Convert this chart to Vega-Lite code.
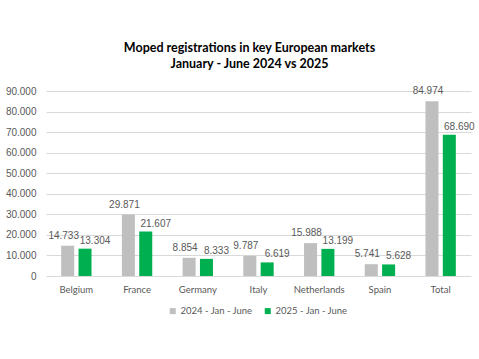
{
  "$schema": "https://vega.github.io/schema/vega-lite/v6.json",
  "width": 425,
  "height": 185,
  "padding": {"left": 5, "top": 41, "right": 9, "bottom": 10},
  "background": "white",
  "title": {
    "text": ["Moped registrations in key European markets", "January - June 2024 vs 2025"],
    "font": "Lato",
    "fontSize": 12.5,
    "fontWeight": "bold",
    "color": "#000000",
    "anchor": "middle",
    "lineHeight": 16,
    "offset": 16,
    "dx": -9
  },
  "data": {
    "values": [
      {"country": "Belgium", "series": "2024 - Jan - June", "value": 14733},
      {"country": "Belgium", "series": "2025 - Jan - June", "value": 13304},
      {"country": "France", "series": "2024 - Jan - June", "value": 29871},
      {"country": "France", "series": "2025 - Jan - June", "value": 21607},
      {"country": "Germany", "series": "2024 - Jan - June", "value": 8854},
      {"country": "Germany", "series": "2025 - Jan - June", "value": 8333},
      {"country": "Italy", "series": "2024 - Jan - June", "value": 9787},
      {"country": "Italy", "series": "2025 - Jan - June", "value": 6619},
      {"country": "Netherlands", "series": "2024 - Jan - June", "value": 15988},
      {"country": "Netherlands", "series": "2025 - Jan - June", "value": 13199},
      {"country": "Spain", "series": "2024 - Jan - June", "value": 5741},
      {"country": "Spain", "series": "2025 - Jan - June", "value": 5628},
      {"country": "Total", "series": "2024 - Jan - June", "value": 84974},
      {"country": "Total", "series": "2025 - Jan - June", "value": 68690}
    ]
  },
  "encoding": {
    "x": {
      "field": "country",
      "type": "nominal",
      "sort": null,
      "scale": {"paddingInner": 0.5, "paddingOuter": 0.25},
      "axis": {
        "title": null,
        "labelAngle": 0,
        "domain": false,
        "ticks": false,
        "labelPadding": 8,
        "labelFont": "Lato",
        "labelFontSize": 9.5,
        "labelColor": "#595959"
      }
    },
    "xOffset": {
      "field": "series",
      "type": "nominal",
      "scale": {"paddingInner": 0.25}
    },
    "y": {
      "field": "value",
      "type": "quantitative",
      "scale": {"domain": [0, 90000], "nice": false},
      "axis": {
        "title": null,
        "values": [0, 10000, 20000, 30000, 40000, 50000, 60000, 70000, 80000, 90000],
        "format": ",.0f",
        "domain": false,
        "ticks": false,
        "labelPadding": 10,
        "labelFont": "Liberation Sans",
        "labelFontSize": 10,
        "labelColor": "#595959",
        "gridColor": "#D9D9D9",
        "gridWidth": 1
      }
    }
  },
  "layer": [
    {
      "mark": {"type": "bar"},
      "encoding": {
        "color": {
          "field": "series",
          "type": "nominal",
          "scale": {"range": ["#BFBFBF", "#00B050"]},
          "legend": {
            "title": null,
            "orient": "none",
            "legendX": 122,
            "legendY": 215,
            "direction": "horizontal",
            "symbolType": "square",
            "symbolSize": 36,
            "symbolStrokeWidth": 0,
            "labelFont": "Lato",
            "labelFontSize": 9.5,
            "labelColor": "#595959",
            "labelOffset": 3,
            "columnPadding": 10
          }
        }
      }
    },
    {
      "transform": [{"filter": "datum.series === '2024 - Jan - June'"}],
      "mark": {"type": "text", "baseline": "bottom", "dy": -5, "dx": -4, "font": "Liberation Sans", "fontSize": 10, "color": "#595959"},
      "encoding": {
        "text": {"field": "value", "type": "quantitative", "format": ",.0f"}
      }
    },
    {
      "transform": [{"filter": "datum.series === '2025 - Jan - June'"}],
      "mark": {"type": "text", "baseline": "bottom", "dy": -3, "dx": 10, "font": "Liberation Sans", "fontSize": 10, "color": "#595959"},
      "encoding": {
        "text": {"field": "value", "type": "quantitative", "format": ",.0f"}
      }
    }
  ],
  "config": {
    "view": {"stroke": null},
    "locale": {
      "number": {"decimal": ",", "thousands": ".", "grouping": [3], "currency": ["", " €"]}
    }
  }
}
